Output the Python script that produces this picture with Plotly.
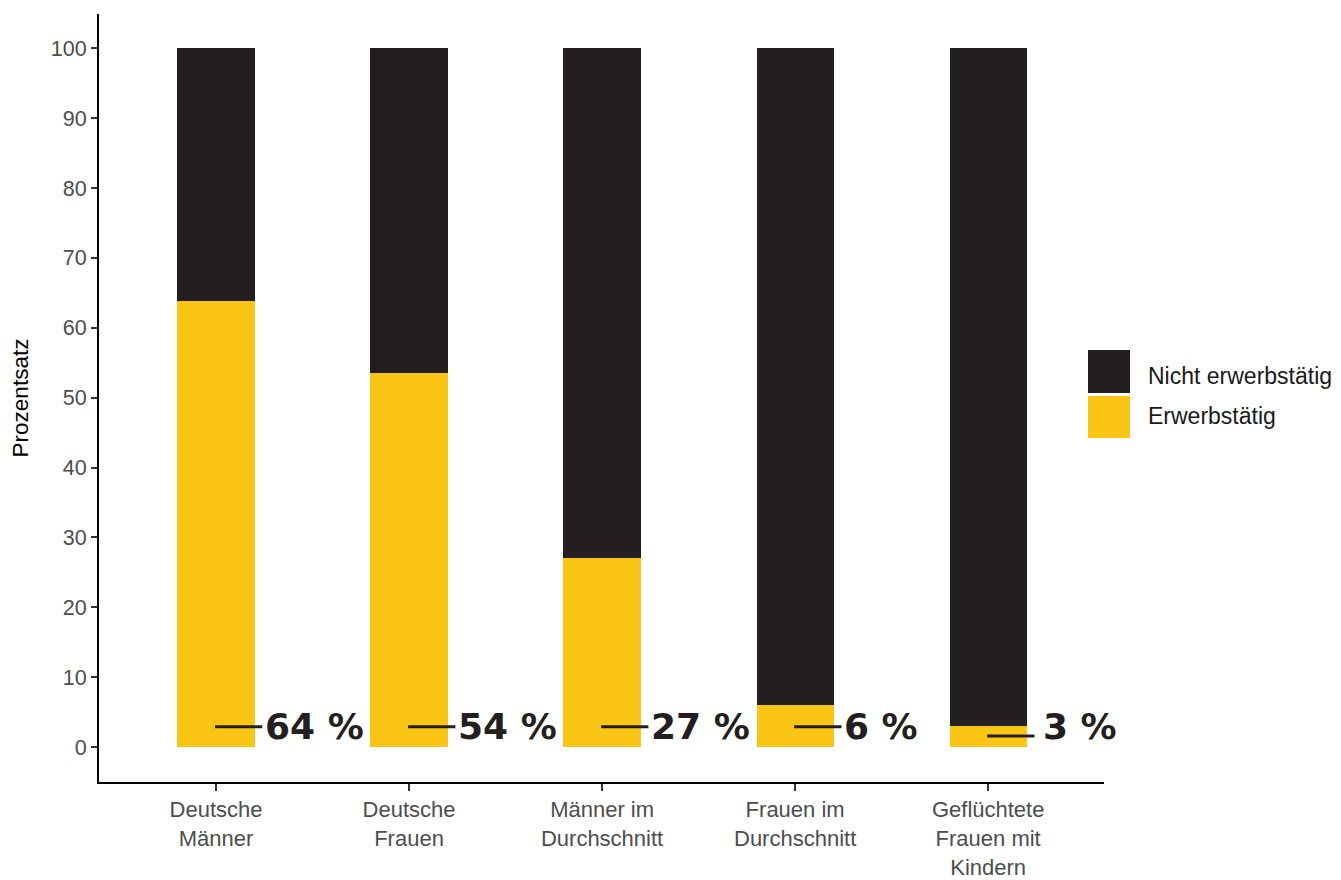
import plotly.graph_objects as go

categories = ["Deutsche<br>Männer", "Deutsche<br>Frauen", "Männer im<br>Durchschnitt",
              "Frauen im<br>Durchschnitt", "Geflüchtete<br>Frauen mit<br>Kindern"]
erwerbstaetig = [63.8, 53.5, 27.0, 6.0, 3.0]
nicht_erwerbstaetig = [36.2, 46.5, 73.0, 94.0, 97.0]
label_texts = ["64 %", "54 %", "27 %", "6 %", "3 %"]
label_y = [2.9, 2.9, 2.9, 2.9, 1.6]
series_names = ["Nicht erwerbstätig", "Erwerbstätig"]
y_ticks = [0, 10, 20, 30, 40, 50, 60, 70, 80, 90, 100]

YELLOW = "#FBC515"
DARK = "#231F20"
FONT = "Liberation Sans, Arial, Helvetica, sans-serif"

# page has an 8px body margin; plot area target: x 99..1104, y 14..782 on screen
OFF = 8
L, T, W, H = 99 - OFF, 14 - OFF, 1005, 768

xpos = list(range(len(categories)))

fig = go.Figure()
fig.add_trace(go.Bar(x=xpos, y=erwerbstaetig, name=series_names[1], marker_color=YELLOW,
                     marker_line_width=0, showlegend=False))
fig.add_trace(go.Bar(x=xpos, y=nicht_erwerbstaetig, name=series_names[0], marker_color=DARK,
                     marker_line_width=0, showlegend=False))

# leader lines and value labels
for i, (t, ly) in enumerate(zip(label_texts, label_y)):
    fig.add_trace(go.Scatter(x=[i - 0.005, i + 0.24], y=[ly, ly], mode="lines",
                             line=dict(color=DARK, width=3), showlegend=False, hoverinfo="skip"))
    fig.add_annotation(x=i + 0.245 + (0.03 if ly < 2.9 else 0), y=2.9, text="<b>" + t + "</b>",
                       showarrow=False, xanchor="left", yanchor="middle",
                       font=dict(family="DejaVu Sans, sans-serif", size=36, color=DARK))

# manual legend (large squares)
def px_to_paper_x(px):
    return (px - 99) / W

def py_to_paper_y(py):
    return 1 - (py - 14) / H

legend_items = [(series_names[0], DARK, 350, 393, 376), (series_names[1], YELLOW, 396, 438, 416)]
for name, col, ytop, ybot, ytext in legend_items:
    fig.add_shape(type="rect", xref="paper", yref="paper",
                  x0=px_to_paper_x(1088), x1=px_to_paper_x(1130),
                  y0=py_to_paper_y(ybot), y1=py_to_paper_y(ytop), fillcolor=col, line_width=0)
    fig.add_annotation(xref="paper", yref="paper", x=px_to_paper_x(1146), y=py_to_paper_y(ytext),
                       text=name, showarrow=False, xanchor="left", yanchor="middle",
                       font=dict(family=FONT, size=23, color="#1a1a1a"))

fig.update_layout(
    width=1341, height=880,
    margin=dict(l=L, r=1341 - L - W, t=T, b=880 - T - H, autoexpand=False),
    paper_bgcolor="white", plot_bgcolor="white",
    barmode="stack", bargap=0.6,
    font=dict(family=FONT),
)
fig.update_xaxes(range=[-0.606, 4.6], tickmode="array", tickvals=xpos, ticktext=categories,
                 showline=True, linecolor="black", linewidth=2, ticks="outside", ticklen=7,
                 tickwidth=1.5, tickcolor="#333333", showgrid=False, zeroline=False,
                 automargin=False,
                 tickfont=dict(family=FONT, size=22, color="#4d4d4d"))
fig.update_yaxes(range=[-5, 104.9], tickmode="array", tickvals=y_ticks,
                 showline=True, linecolor="black", linewidth=2, ticks="outside", ticklen=6,
                 tickwidth=1.5, tickcolor="#333333", showgrid=False, zeroline=False,
                 automargin=False,
                 tickfont=dict(family=FONT, size=21.5, color="#4d4d4d"),
                 title=dict(text="Prozentsatz", font=dict(family=FONT, size=22.5, color="black"),
                            standoff=16))

fig.write_html("out.html")
